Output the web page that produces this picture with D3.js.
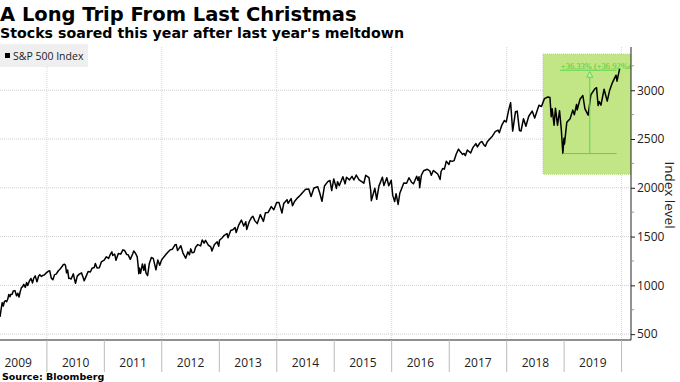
<!DOCTYPE html>
<html>
<head>
<meta charset="utf-8">
<script src="https://cdn.jsdelivr.net/npm/d3@7"></script>
<style>
  body { margin: 0; background: #fff; }
  svg { display: block; }
</style>
</head>
<body>
<div id="chart"></div>
<script>
// S&P 500 closes (month-day, level)
const spx2009 = [["03-09",677],["03-16",753],["03-23",823],["03-30",788],["04-06",835],["04-14",842],["04-20",832],["04-27",857],["05-04",907],["05-11",883],["05-18",910],["05-26",910],["06-01",942],["06-12",946],["06-22",893],["06-30",919],["07-08",880],["07-15",932],["07-23",977],["07-31",987],["08-07",1010],["08-17",979],["08-25",1029],["09-01",998],["09-11",1042],["09-22",1071],["10-02",1025],["10-09",1071],["10-19",1097],["10-30",1036],["11-09",1093],["11-17",1110],["11-27",1091],["12-07",1103],["12-15",1107],["12-28",1128]];
const spx2010 = [["01-11",1146],["01-19",1150],["01-29",1074],["02-08",1057],["02-19",1110],["03-01",1115],["03-15",1150],["03-26",1167],["04-05",1188],["04-15",1211],["04-23",1217],["04-29",1206],["05-06",1128],["05-13",1157],["05-20",1071],["05-25",1074],["06-04",1065],["06-18",1118],["06-30",1031],["07-02",1022],["07-13",1095],["07-26",1115],["08-09",1128],["08-17",1092],["08-26",1047],["09-07",1092],["09-20",1142],["10-04",1137],["10-15",1176],["10-29",1183],["11-05",1225],["11-16",1178],["11-30",1180],["12-13",1240],["12-31",1258]];
const spx2011 = [["01-14",1293],["01-28",1276],["02-09",1321],["02-18",1343],["02-23",1307],["03-08",1321],["03-16",1257],["03-31",1326],["04-15",1320],["04-29",1364],["05-10",1357],["05-23",1317],["06-01",1315],["06-15",1266],["06-30",1321],["07-07",1353],["07-19",1327],["07-29",1292],["08-04",1200],["08-08",1119],["08-12",1179],["08-19",1124],["08-31",1219],["09-09",1154],["09-16",1216],["09-22",1130],["10-03",1099],["10-14",1225],["10-27",1285],["11-08",1276],["11-25",1159],["12-07",1261],["12-19",1206],["12-30",1258]];
const spx2012 = [["01-13",1289],["01-27",1316],["02-10",1342],["02-24",1366],["03-09",1371],["03-26",1417],["04-02",1419],["04-10",1358],["04-20",1379],["05-01",1406],["05-15",1331],["06-01",1278],["06-15",1343],["06-25",1313],["07-03",1374],["07-12",1334],["07-24",1338],["08-03",1391],["08-17",1418],["09-04",1404],["09-14",1466],["09-26",1433],["10-05",1461],["10-23",1413],["11-07",1395],["11-15",1353],["11-30",1416],["12-18",1446],["12-28",1402]];
const spx2013 = [["01-02",1462],["01-18",1486],["02-01",1513],["02-19",1530],["02-25",1488],["03-14",1563],["03-28",1569],["04-11",1593],["04-18",1541],["05-03",1614],["05-21",1669],["06-05",1608],["06-18",1652],["06-24",1573],["07-10",1652],["07-23",1692],["08-02",1709],["08-15",1661],["08-30",1633],["09-18",1725],["10-08",1656],["10-21",1745],["11-07",1748],["11-27",1807],["12-13",1775],["12-31",1848]];
const spx2014 = [["01-15",1848],["02-03",1742],["02-14",1838],["03-07",1878],["03-14",1841],["04-02",1890],["04-11",1816],["04-25",1863],["05-13",1897],["05-30",1924],["06-20",1963],["07-03",1985],["07-23",1987],["08-07",1910],["08-25",1998],["09-18",2011],["10-01",1946],["10-15",1862],["10-31",2018],["11-21",2063],["12-05",2075],["12-16",1972],["12-29",2091]];
const spx2015 = [["01-15",1993],["01-22",2063],["02-02",2021],["02-25",2114],["03-11",2040],["03-20",2108],["04-08",2081],["04-24",2117],["05-06",2080],["05-21",2131],["06-08",2080],["06-29",2058],["07-08",2047],["07-20",2128],["08-10",2104],["08-21",1971],["08-25",1868],["09-16",1996],["09-28",1882],["10-12",2017],["11-03",2109],["11-13",2023],["12-01",2103],["12-14",2021],["12-29",2078]];
const spx2016 = [["01-08",1922],["01-20",1859],["01-29",1940],["02-11",1829],["02-22",1946],["03-01",1978],["03-18",2049],["04-05",2046],["04-20",2103],["05-06",2057],["05-19",2041],["06-08",2119],["06-16",2077],["06-23",2113],["06-27",2001],["07-08",2130],["07-22",2175],["08-15",2190],["08-31",2171],["09-09",2128],["09-22",2177],["10-05",2160],["10-20",2141],["11-04",2085],["11-10",2167],["11-21",2198],["12-01",2191],["12-13",2271],["12-30",2239]];
const spx2017 = [["01-06",2277],["01-20",2271],["02-01",2279],["02-15",2349],["03-01",2396],["03-14",2366],["03-27",2342],["04-05",2352],["04-13",2329],["04-26",2388],["05-17",2357],["05-31",2412],["06-19",2453],["06-29",2419],["07-14",2459],["07-27",2475],["08-10",2438],["08-18",2425],["08-31",2472],["09-15",2500],["10-02",2529],["10-20",2575],["11-07",2591],["11-15",2564],["12-01",2642],["12-18",2690],["12-29",2674]];
const spx2018 = [["01-12",2786],["01-26",2873],["02-08",2581],["02-26",2780],["03-09",2786],["03-23",2588],["04-02",2582],["04-18",2708],["05-03",2630],["05-21",2733],["06-12",2786],["06-28",2716],["07-25",2846],["08-10",2833],["08-29",2914],["09-20",2931],["10-03",2925],["10-11",2728],["10-17",2809],["10-29",2641],["11-07",2814],["11-20",2642],["12-03",2790],["12-14",2600],["12-24",2351],["12-31",2507]];
const spx2019 = [["01-03",2448],["01-18",2671],["02-08",2708],["02-25",2796],["03-07",2749],["03-21",2855],["03-25",2798],["04-12",2907],["04-30",2946],["05-13",2812],["05-31",2752],["06-03",2744],["06-20",2954],["07-15",3014],["07-26",3026],["08-05",2844],["08-12",2883],["08-23",2847],["09-12",3010],["10-02",2888],["10-17",2998],["11-04",3078],["11-27",3154],["12-03",3093],["12-20",3221]];

const years = ["2009","2010","2011","2012","2013","2014","2015","2016","2017","2018","2019"];
const yTicks = [500, 1000, 1500, 2000, 2500, 3000];

// green highlight region and the low-to-now annotation
const highlight = {from: "2018-08-20", to: "2020-03-01", low: 2140, high: 3370};
const annotation = {from: "2018-12-24", to: "2019-12-01", low: 2351.1, pct: "+36.33%", ann: "(+36.92%ann)"};

const parse = d3.timeParse("%Y-%m-%d");
const yearly = [spx2009, spx2010, spx2011, spx2012, spx2013, spx2014, spx2015, spx2016, spx2017, spx2018, spx2019];
const data = [];
yearly.forEach((rows, i) => {
    rows.forEach(r => data.push({date: parse(years[i] + "-" + r[0]), value: r[1]}));
});

const width = 680, height = 382;
const plot = {left: 0, right: 631, top: 47, bottom: 340};

const svg = d3.select("#chart").append("svg")
    .attr("width", width)
    .attr("height", height)
    .style("font-family", "'Open Sans', 'Noto Sans', sans-serif");

const x = d3.scaleTime()
    .domain([parse("2009-03-09"), parse("2020-03-01")])
    .range([plot.left, plot.right]);

const y = d3.scaleLinear()
    .domain([440, 3443])
    .range([plot.bottom, plot.top]);

svg.append("defs").append("clipPath").attr("id", "plotclip")
  .append("rect")
    .attr("x", plot.left).attr("y", plot.top)
    .attr("width", plot.right - plot.left).attr("height", plot.bottom - plot.top);

// Title block
svg.append("text")
    .attr("x", 0).attr("y", 21)
    .style("font-family", "'DejaVu Sans', sans-serif")
    .style("font-weight", "bold")
    .style("font-size", "19.5px")
    .text("A Long Trip From Last Christmas");

svg.append("text")
    .attr("x", 0).attr("y", 38)
    .style("font-family", "'DejaVu Sans', sans-serif")
    .style("font-weight", "bold")
    .style("font-size", "14.2px")
    .text("Stocks soared this year after last year's meltdown");

// Gridlines
svg.append("g")
    .selectAll("line")
    .data(yTicks)
    .enter().append("line")
    .attr("x1", plot.left).attr("x2", plot.right)
    .attr("y1", d => y(d)).attr("y2", d => y(d))
    .attr("stroke", "#cfcfcf")
    .attr("stroke-dasharray", "1,1");

const evenYears = d3.range(2010, 2021, 2).map(yr => parse(yr + "-01-01"));
svg.append("g")
    .selectAll("line")
    .data(evenYears)
    .enter().append("line")
    .attr("x1", d => x(d)).attr("x2", d => x(d))
    .attr("y1", plot.top).attr("y2", plot.bottom)
    .attr("stroke", "#d6d6d6")
    .attr("stroke-dasharray", "1,1");

// Highlight box
svg.append("rect")
    .attr("clip-path", "url(#plotclip)")
    .attr("x", x(parse(highlight.from)))
    .attr("y", y(highlight.high))
    .attr("width", x(parse(highlight.to)) - x(parse(highlight.from)))
    .attr("height", y(highlight.low) - y(highlight.high))
    .attr("fill", "#c2e585")
    .attr("stroke", "#a6d86a")
    .attr("stroke-dasharray", "1,1");

// Legend
svg.append("rect")
    .attr("x", 0).attr("y", 44)
    .attr("width", 88).attr("height", 23)
    .attr("fill", "#efefef");
svg.append("rect")
    .attr("x", 5).attr("y", 53)
    .attr("width", 5).attr("height", 5)
    .attr("fill", "#000");
svg.append("text")
    .attr("x", 13).attr("y", 59.5)
    .style("font-size", "10.5px")
    .attr("fill", "#222")
    .text("S&P 500 Index");

// Price line
const line = d3.line()
    .x(d => x(d.date))
    .y(d => y(d.value));

svg.append("path")
    .datum(data)
    .attr("clip-path", "url(#plotclip)")
    .attr("fill", "none")
    .attr("stroke", "#000")
    .attr("stroke-width", 1.5)
    .attr("stroke-linejoin", "round")
    .attr("d", line);

// Annotation: low to latest
const annHigh = annotation.low * 1.3633;
const aX1 = x(parse(annotation.from)), aX2 = x(parse(annotation.to));
const aMid = (aX1 + aX2) / 2;
const ann = svg.append("g").attr("clip-path", "url(#plotclip)");
ann.append("line")
    .attr("x1", aX1).attr("x2", aX2)
    .attr("y1", y(annotation.low)).attr("y2", y(annotation.low))
    .attr("stroke", "#55d84e").attr("stroke-width", 1);
ann.append("line")
    .attr("x1", aX1 - 3).attr("x2", aX2)
    .attr("y1", y(annHigh)).attr("y2", y(annHigh))
    .attr("stroke", "#55d84e").attr("stroke-width", 1);
ann.append("line")
    .attr("x1", aMid).attr("x2", aMid)
    .attr("y1", y(annotation.low)).attr("y2", y(annHigh) + 7)
    .attr("stroke", "#55d84e").attr("stroke-width", 1);
ann.append("path")
    .attr("d", `M${aMid},${y(annHigh) + 1.5} L${aMid - 3},${y(annHigh) + 7} L${aMid + 3},${y(annHigh) + 7} Z`)
    .attr("fill", "#d8f0b0")
    .attr("stroke", "#55d84e");
ann.append("text")
    .attr("x", aX1 - 2).attr("y", y(annHigh) - 1.5)
    .attr("fill", "#45d040")
    .style("font-family", "'Liberation Serif', serif")
    .style("font-size", "8.5px")
    .text(annotation.pct + " " + annotation.ann);

// Y axis on the right
const yAxis = svg.append("g")
    .attr("transform", `translate(${plot.right},0)`)
    .call(d3.axisRight(y).tickValues(yTicks).tickFormat(d3.format("d")).tickSize(4).tickPadding(2));
yAxis.select(".domain")
    .attr("d", `M0,${plot.top}V${plot.bottom}`)
    .attr("stroke", "#222");
yAxis.selectAll(".tick line").attr("stroke", "#222");
yAxis.selectAll(".tick text")
    .style("font-family", "'Open Sans', sans-serif")
    .style("font-size", "12px")
    .attr("fill", "#222");

// minor ticks between labels
svg.append("g")
    .selectAll("line")
    .data(yTicks.map(d => d + 250))
    .enter().append("line")
    .attr("x1", plot.right).attr("x2", plot.right + 3)
    .attr("y1", d => y(d)).attr("y2", d => y(d))
    .attr("stroke", "#999");

svg.append("text")
    .attr("transform", `translate(665, 195) rotate(90)`)
    .attr("text-anchor", "middle")
    .style("font-family", "'Open Sans', sans-serif")
    .style("font-size", "13.5px")
    .attr("fill", "#222")
    .text("Index level");

// X axis with year bands
svg.append("line")
    .attr("x1", plot.left).attr("x2", plot.right)
    .attr("y1", plot.bottom).attr("y2", plot.bottom)
    .attr("stroke", "#222");

const yearStarts = d3.range(2010, 2021).map(yr => parse(yr + "-01-01"));
svg.append("g")
    .selectAll("line")
    .data(yearStarts)
    .enter().append("line")
    .attr("x1", d => x(d)).attr("x2", d => x(d))
    .attr("y1", plot.bottom).attr("y2", 372)
    .attr("stroke", "#bbb");

svg.append("g")
    .selectAll("text")
    .data(years)
    .enter().append("text")
    .attr("x", d => (x(parse(d + "-01-01")) + x(parse((+d + 1) + "-01-01"))) / 2)
    .attr("y", 367)
    .attr("text-anchor", "middle")
    .style("font-family", "'Open Sans', sans-serif")
    .style("font-size", "12px")
    .attr("fill", "#222")
    .text(d => d);

svg.append("text")
    .attr("x", 2).attr("y", 380)
    .style("font-family", "'DejaVu Sans', sans-serif")
    .style("font-weight", "bold")
    .style("font-size", "9.5px")
    .text("Source: Bloomberg");
</script>
</body>
</html>
